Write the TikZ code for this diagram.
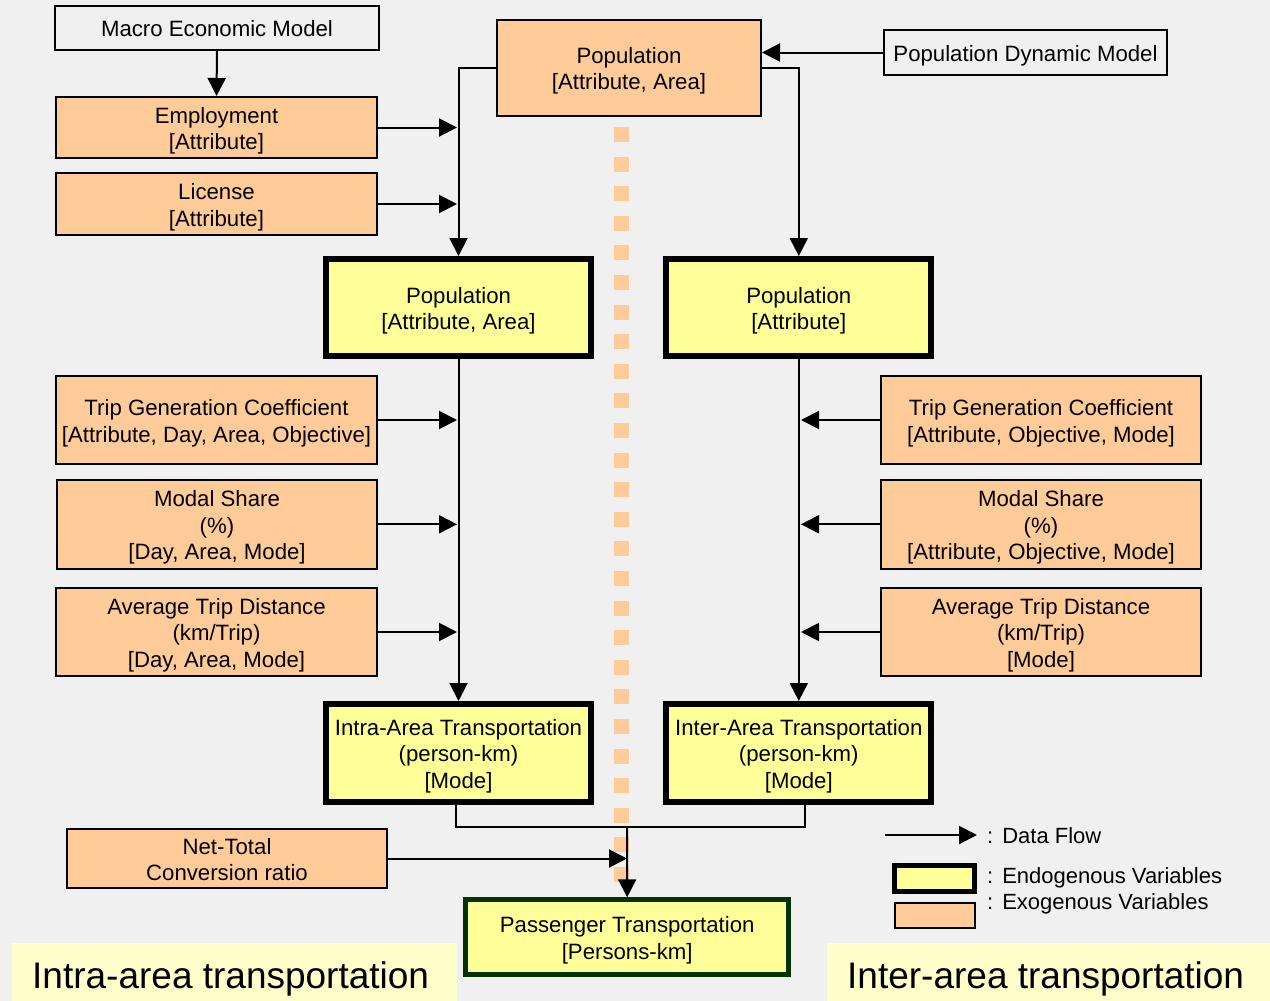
\documentclass[tikz,border=0pt]{standalone}
\usepackage{fontspec}
\setmainfont{Liberation Sans}
\usetikzlibrary{arrows.meta}
\definecolor{bgcol}{HTML}{F0F0F0}
\definecolor{exocol}{HTML}{FFCC99}
\definecolor{endocol}{HTML}{FFFF99}
\definecolor{labcol}{HTML}{FFFFCC}
\definecolor{passborder}{HTML}{003300}
\newcommand\mytop{\rule{0pt}{22.5pt}}
\newcommand\mybot{\rule[-5pt]{0pt}{5pt}}
\tikzset{
  box/.style={draw=black, line width=2pt, align=center, inner sep=0pt,
    font=\fontsize{22.2}{26.5}\selectfont, text=black},
  exo/.style={box, fill=exocol},
  model/.style={box},
  endo/.style={box, fill=endocol, line width=6pt},
  flow/.style={line width=2pt, -{Triangle[length=18pt,width=18pt]}},
  plain/.style={line width=2pt},
  dotline/.style={draw=exocol, line width=15pt, dash pattern=on 15pt off 14.6pt},
  legtext/.style={anchor=base west, inner sep=0pt, font=\fontsize{22}{26}\selectfont},
  biglab/.style={anchor=base west, inner sep=0pt, font=\fontsize{37}{40}\selectfont}
}
\begin{document}
\begin{tikzpicture}[x=1pt,y=-1pt]
\useasboundingbox (0,0) rectangle (1270,1001);
\fill[bgcol] (0,0) rectangle (1270,1001);

% bottom labels
\fill[labcol] (12,943) rectangle (457,1001);
\fill[labcol] (827,943) rectangle (1270,1001);
\node[biglab] (intralab) at (32,988) {Intra-area transportation};
\node[biglab] (interlab) at (847,988) {Inter-area transportation};

% dotted separator
\coordinate (dtop) at (621,127);
\coordinate (dbot) at (621,897);
\draw[dotline] (dtop) -- (dbot);

% nodes
\node[model, minimum width=324pt, minimum height=44pt] (mem) at (217,28) {\mytop Macro Economic Model\mybot};
\node[exo, minimum width=321pt, minimum height=61pt] (emp) at (216.5,127.5) {\mytop Employment\\{[Attribute]}\mybot};
\node[exo, minimum width=321pt, minimum height=62pt] (lic) at (216.5,204) {\mytop License\\{[Attribute]}\mybot};
\node[exo, minimum width=264pt, minimum height=96pt] (popT) at (629,67.5) {\mytop Population\\{[Attribute, Area]}\mybot};
\node[model, minimum width=283pt, minimum height=45pt] (pdm) at (1025.5,52.5) {\mytop Population Dynamic Model\mybot};

\node[endo, minimum width=265pt, minimum height=97pt] (popL) at (458.5,307.5) {\mytop Population\\{[Attribute, Area]}\mybot};
\node[endo, minimum width=265pt, minimum height=97pt] (popR) at (798.8,307.5) {\mytop Population\\{[Attribute]}\mybot};

\node[exo, minimum width=321pt, minimum height=88pt] (tgL) at (216.5,420) {\mytop Trip Generation Coefficient\\{[Attribute, Day, Area, Objective]}\mybot};
\node[exo, minimum width=320pt, minimum height=89pt] (msL) at (217,524.3) {\mytop Modal Share\\(\%)\\{[Day, Area, Mode]}\mybot};
\node[exo, minimum width=321pt, minimum height=88pt] (atL) at (216.5,632) {\mytop Average Trip Distance\\(km/Trip)\\{[Day, Area, Mode]}\mybot};

\node[exo, minimum width=320pt, minimum height=88pt] (tgR) at (1041,420) {\mytop Trip Generation Coefficient\\{[Attribute, Objective, Mode]}\mybot};
\node[exo, minimum width=320pt, minimum height=89pt] (msR) at (1041,524.3) {\mytop Modal Share\\(\%)\\{[Attribute, Objective, Mode]}\mybot};
\node[exo, minimum width=320pt, minimum height=88pt] (atR) at (1041,632) {\mytop Average Trip Distance\\(km/Trip)\\{[Mode]}\mybot};

\node[endo, minimum width=265pt, minimum height=98pt] (intra) at (458.5,753) {\mytop Intra-Area Transportation\\(person-km)\\{[Mode]}\mybot};
\node[endo, minimum width=265pt, minimum height=98pt] (inter) at (798.8,753) {\mytop Inter-Area Transportation\\(person-km)\\{[Mode]}\mybot};

\node[exo, minimum width=320pt, minimum height=59pt] (net) at (227,858.5) {\mytop Net-Total\\Conversion ratio\mybot};
\node[endo, draw=passborder, line width=5pt, minimum width=322.7pt, minimum height=75pt] (pass) at (627.2,937.3) {\mytop Passenger Transportation\\{[Persons-km]}\mybot};

% helper coordinates on trunk lines
\coordinate (Lline) at (457,0);
\coordinate (Rline) at (801,0);
\coordinate (J) at (627,827);

% connectors
\draw[flow] (mem.south) -- (emp.north);
\draw[flow] (pdm.west) -- (pdm.west -| popT.east);
\draw[flow] (popT.west) -| (popL.north);
\draw[flow] (popT.east) -| (popR.north);
\draw[flow] (emp.east) -- (emp.east -| Lline);
\draw[flow] (lic.east) -- (lic.east -| Lline);

\draw[flow] (popL.south) -- (intra.north);
\draw[flow] (popR.south) -- (inter.north);

\draw[flow] (tgL.east) -- (tgL.east -| Lline);
\draw[flow] (msL.east) -- (msL.east -| Lline);
\draw[flow] (atL.east) -- (atL.east -| Lline);

\draw[flow] (tgR.west) -- (tgR.west -| Rline);
\draw[flow] (msR.west) -- (msR.west -| Rline);
\draw[flow] (atR.west) -- (atR.west -| Rline);

\draw[plain] ([xshift=-2.5pt]intra.south) |- (J);
\draw[plain] ([xshift=6.2pt]inter.south) |- (J);
\draw[flow] (J) -- (pass.north);
\draw[flow] (net.east) -- (net.east -| J);

% legend
\coordinate (lg1) at (885,835);
\coordinate (lg2) at (977,835);
\draw[flow] (lg1) -- (lg2);
\node[legtext] (lgt1) at (987,843) {:\hspace{9pt}Data Flow};
\node[endo, line width=5pt, minimum width=80pt, minimum height=25.5pt] (lgendo) at (934.8,878.7) {};
\node[exo, minimum width=79.4pt, minimum height=25pt] (lgexo) at (935,915.8) {};
\node[legtext] (lgt2) at (987,883) {:\hspace{9pt}Endogenous Variables};
\node[legtext] (lgt3) at (987,909) {:\hspace{9pt}Exogenous Variables};
\end{tikzpicture}
\end{document}
